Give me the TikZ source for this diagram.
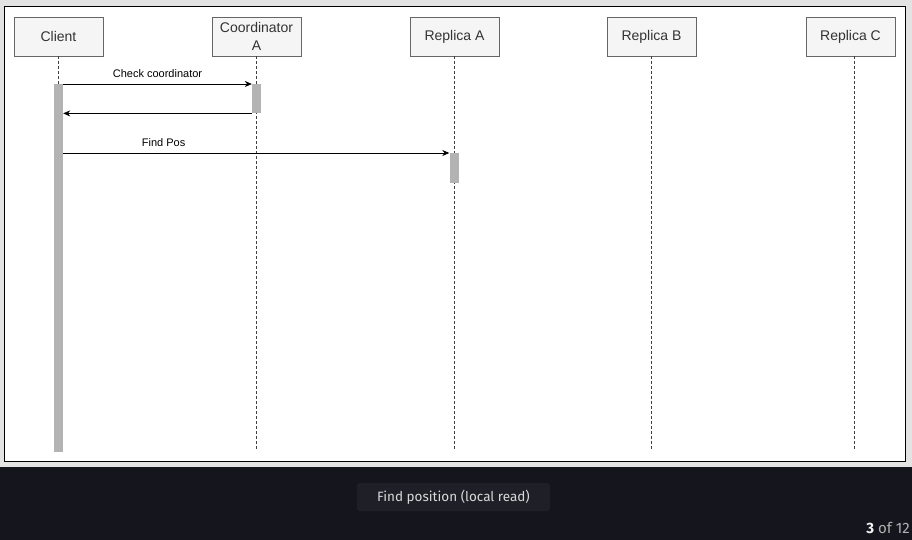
\documentclass[tikz,border=0pt]{standalone}
\usepackage{fontspec}
\setmainfont{Liberation Sans}
\newfontfamily\capfont{Fira Sans}
\usetikzlibrary{arrows.meta}

\definecolor{pagebg}{HTML}{E3E3E3}
\definecolor{darkbg}{HTML}{15151E}
\definecolor{capbg}{HTML}{1F1F28}
\definecolor{boxfill}{HTML}{F5F5F5}
\definecolor{boxline}{HTML}{666666}
\definecolor{actfill}{HTML}{B3B3B3}

\begin{document}
\begin{tikzpicture}[x=1pt,y=-1pt,
    actor/.style={draw=boxline,fill=boxfill,line width=0.8pt,minimum width=89pt,minimum height=39pt,
        inner sep=1pt,align=center,font=\fontsize{14pt}{17.5pt}\selectfont,text=black!80},
    lifeline/.style={densely dashed,draw=black!75,line width=0.6pt},
    activation/.style={fill=actfill,draw=none,minimum width=9pt,inner sep=0pt},
    msg/.style={-{Stealth[length=7pt,width=6pt]},line width=0.7pt},
    msglabel/.style={font=\fontsize{11pt}{12pt}\selectfont,above,inner sep=6pt}]
    \useasboundingbox (0,0) rectangle (912,540);
    \fill[pagebg] (0,0) rectangle (912,467);
    \fill[darkbg] (0,467) rectangle (912,540);
    \draw[fill=white,line width=0.9pt] (4.5,6.5) rectangle (905,461.5);
    % participants
    \node[actor] (client) at (58.5,36.5) {Client};
    \node[actor] (coord) at (256.5,36.5) {Coordinator\\A};
    \node[actor] (repA) at (454.5,36.5) {Replica A};
    \node[actor] (repB) at (651.5,36.5) {Replica B};
    \node[actor] (repC) at (850.5,36.5) {Replica C};
    \coordinate (clientEnd) at (58.5,451);
    \coordinate (coordEnd) at (256.5,451);
    \coordinate (repAEnd) at (454,451);
    \coordinate (repBEnd) at (651.5,451);
    \coordinate (repCEnd) at (854.5,451);
    \draw[lifeline] (client) -- (clientEnd);
    \draw[lifeline] (coord) -- (coordEnd);
    \draw[lifeline] (repA.south -| repAEnd) -- (repAEnd);
    \draw[lifeline] (repB) -- (repBEnd);
    \draw[lifeline] (repC.south -| repCEnd) -- (repCEnd);
    % activations
    \node[activation,minimum height=368pt,anchor=north] (clientAct) at (58.5,84) {};
    \node[activation,minimum height=29pt,anchor=north] (coordAct) at (256.5,84) {};
    \node[activation,minimum height=30pt,anchor=north] (repAAct) at (454,153) {};
    % messages
    \draw[msg] (clientAct.north east) -- (coordAct.north west)
        node[msglabel,midway] {Check coordinator};
    \draw[msg] (coordAct.south west) -- (clientAct.east |- coordAct.south west);
    \draw[msg] (clientAct.east |- repAAct.north west) -- (repAAct.north west)
        node[msglabel,pos=0.26] {Find Pos};
    % caption
    \node[fill=capbg,rounded corners=3pt,minimum width=193pt,minimum height=28pt,
        font=\capfont\fontsize{13.5pt}{15pt}\selectfont,text=white!85!black] (caption) at (453.5,497) {Find position (local read)};
    \node[font=\capfont\fontsize{15pt}{16pt}\selectfont,text=white!70!black,anchor=east,inner sep=0pt] (counter) at (910,528)
        {\textcolor{white!95!black}{\bfseries 3} of 12};
\end{tikzpicture}
\end{document}
